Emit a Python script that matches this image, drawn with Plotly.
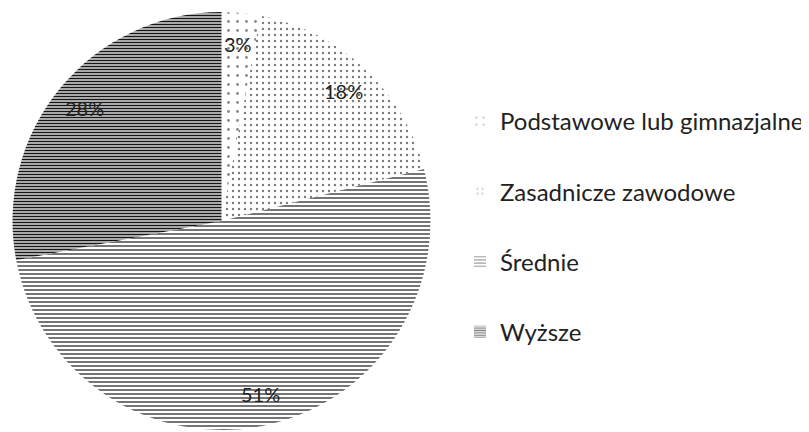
import math
import plotly.graph_objects as go

categories = ["Podstawowe lub gimnazjalne", "Zasadnicze zawodowe", "Średnie", "Wyższe"]
values = [3, 18, 51, 28]
labels_txt = ["3%", "18%", "51%", "28%"]

W, H = 809, 432
OFF = 8  # page body margin offset of the rendered figure
FONT = "Lato"

patterns = [
    dict(shape=".", fgcolor="#8a8a8a", bgcolor="white", size=9, solidity=0.08),
    dict(shape=".", fgcolor="#7a7a7a", bgcolor="white", size=6, solidity=0.12),
    dict(shape="-", fgcolor="#5a5a5a", bgcolor="white", size=4, solidity=0.42),
    dict(shape="-", fgcolor="#161616", bgcolor="white", size=3, solidity=0.58),
]

# pie geometry (target pixels, converted to figure pixels)
left, right, top, bottom = 8 - OFF, 435 - OFF, 12 - OFF, 430 - OFF
dom_x = [max(left, 0) / W, right / W]
dom_y = [(H - bottom) / H, (H - max(top, 0)) / H]
cx = (left + right) / 2
cy = (top + bottom) / 2
r = min(right - left, bottom - top) / 2

fig = go.Figure()
fig.add_trace(go.Pie(
    labels=categories, values=values, sort=False, direction="clockwise",
    rotation=0, textinfo="none", showlegend=False,
    marker=dict(pattern=dict(
        shape=[p["shape"] for p in patterns],
        fgcolor=[p["fgcolor"] for p in patterns],
        bgcolor=[p["bgcolor"] for p in patterns],
        size=[p["size"] for p in patterns],
        solidity=[p["solidity"] for p in patterns],
    ), line=dict(width=0)),
    domain=dict(x=dom_x, y=dom_y),
))

# legend entries (legend-only bar traces carrying the same patterns)
for i, (cat, p) in enumerate(zip(categories, patterns)):
    fig.add_trace(go.Bar(
        x=[None], y=[None], name=cat, legendgroup=str(i),
        marker=dict(color="white", pattern=p, line=dict(width=0)),
        showlegend=True,
    ))

# percentage labels placed along each slice's mid angle
total = sum(values)
acc = 0
annotations = []
for v, t in zip(values, labels_txt):
    mid = (acc + v / 2) / total * 2 * math.pi
    acc += v
    px = cx + 0.85 * r * math.sin(mid)
    py = cy - 0.85 * r * math.cos(mid)
    annotations.append(dict(
        x=px / W, y=1 - py / H, xref="paper", yref="paper", text=t,
        xanchor="center", yanchor="middle",
        showarrow=False, font=dict(family=FONT, size=20, color="#222222"),
    ))

fig.update_layout(
    width=W, height=H,
    margin=dict(l=0, r=0, t=0, b=0),
    paper_bgcolor="white", plot_bgcolor="white",
    xaxis=dict(visible=False), yaxis=dict(visible=False),
    legend=dict(
        x=(460 - OFF) / W, y=1 - (99 - OFF) / H, xanchor="left", yanchor="top",
        font=dict(family=FONT, size=24, color="#222222"),
        tracegroupgap=36, bgcolor="rgba(0,0,0,0)",
    ),
    annotations=annotations,
)

fig.write_html("out.html")
